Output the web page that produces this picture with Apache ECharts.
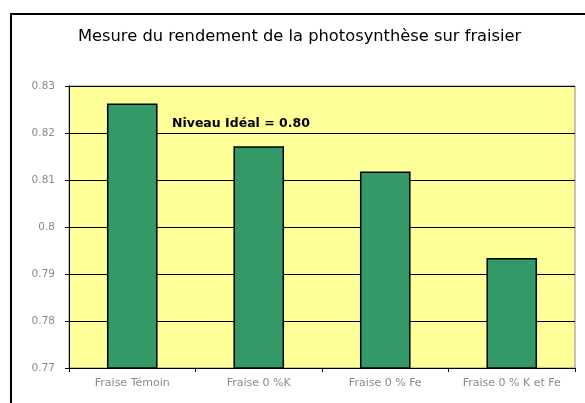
<!DOCTYPE html>
<html>
<head>
<meta charset="utf-8">
<script src="https://cdn.jsdelivr.net/npm/echarts@6/dist/echarts.min.js"></script>
<style>
  html, body { margin: 0; padding: 0; background: #fff; }
  #chart { width: 585px; height: 403px; }
</style>
</head>
<body>
<div id="chart"></div>
<script>
// categories and measured values
var categories = ['Fraise Témoin', 'Fraise 0 %K', 'Fraise 0 % Fe', 'Fraise 0 % K et Fe'];
var rendement = [0.8263, 0.8172, 0.8118, 0.7934];
var yMin = 0.77, yMax = 0.83, yStep = 0.01;

var myChart = echarts.init(document.getElementById('chart'));
myChart.setOption({
  animation: false,
  backgroundColor: '#ffffff',
  title: {
    text: 'Mesure du rendement de la photosynthèse sur fraisier',
    left: 73,
    top: 24,
    textStyle: { fontFamily: 'DejaVu Sans', fontSize: 16.3, fontWeight: 'normal', color: '#000' }
  },
  grid: {
    left: 69, right: 10, top: 86, bottom: 35,
    show: true, backgroundColor: '#ffff99', borderColor: '#888', borderWidth: 1
  },
  xAxis: {
    type: 'category',
    data: categories,
    axisLine: { lineStyle: { color: '#000', width: 1 } },
    axisTick: { show: true, interval: 0, length: 4, lineStyle: { color: '#000' } },
    axisLabel: { interval: 0, color: '#8a8a8a', fontSize: 11, fontFamily: 'DejaVu Sans', margin: 10 }
  },
  yAxis: {
    type: 'value',
    min: yMin, max: yMax, interval: yStep,
    axisLine: { show: true, lineStyle: { color: '#000', width: 1 } },
    axisTick: { show: true, length: 4, lineStyle: { color: '#000' } },
    splitLine: { show: true, lineStyle: { color: '#000', width: 1 } },
    axisLabel: {
      color: '#8a8a8a', fontSize: 10.5, fontFamily: 'DejaVu Sans', margin: 14,
      formatter: function (v) { return String(parseFloat(v.toFixed(2))); }
    }
  },
  series: [{
    type: 'bar',
    data: rendement,
    barWidth: '40%',
    itemStyle: { color: '#339966', borderColor: '#000', borderWidth: 1.5 }
  }],
  graphic: [
    {
      type: 'text', left: 172, top: 117, z: 10,
      style: { text: 'Niveau Idéal = 0.80', font: 'bold 12.5px DejaVu Sans', fill: '#000' }
    },
    {
      type: 'polyline', z: 10,
      shape: { points: [[11, 403], [11, 14], [585, 14]] },
      style: { stroke: '#000', lineWidth: 2, fill: null }
    }
  ]
});
</script>
</body>
</html>
